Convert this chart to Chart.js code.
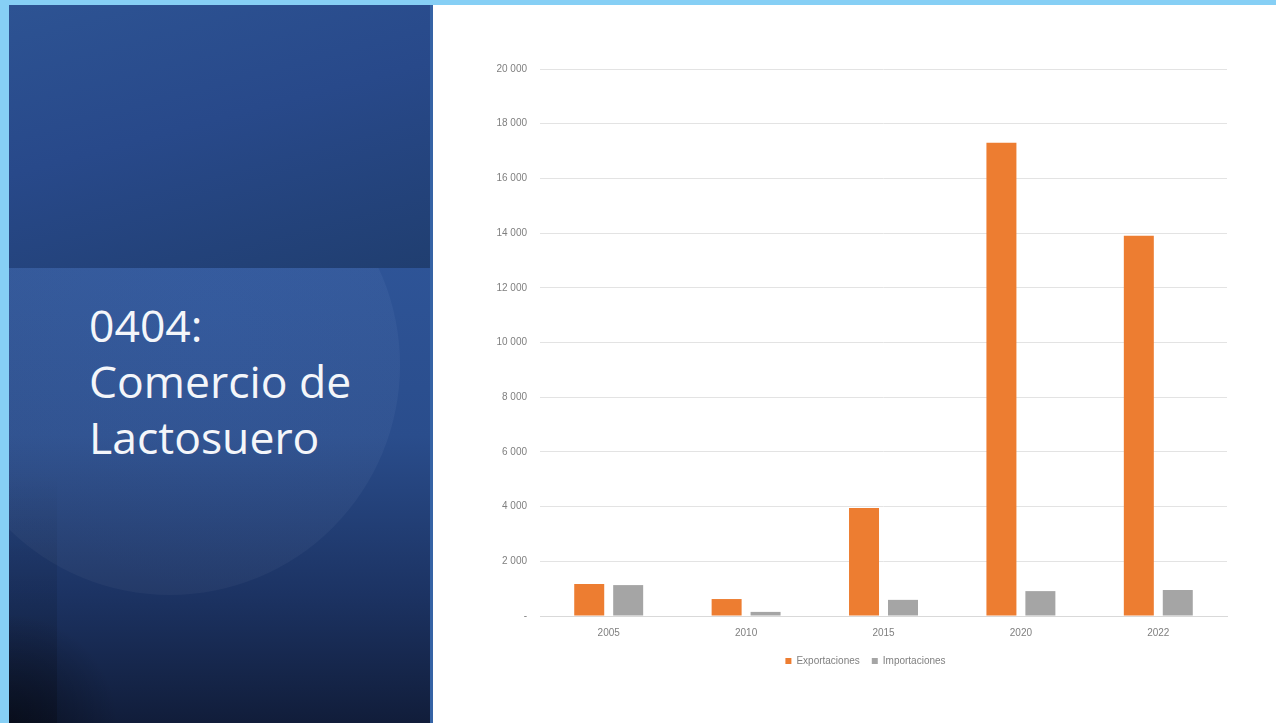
<!DOCTYPE html>
<html>
<head>
<meta charset="utf-8">
<script src="https://cdn.jsdelivr.net/npm/chart.js@4.4.1/dist/chart.umd.min.js"></script>
<style>
  html, body { margin: 0; padding: 0; }
  body { width: 1276px; height: 723px; position: relative; overflow: hidden; background: #ffffff; }
  #topbar { position: absolute; left: 0; top: 0; width: 1276px; height: 5px; background: #86cff5; }
  #leftbar { position: absolute; left: 0; top: 0; width: 9px; height: 723px; background: #86cff5; }
  #panel {
    position: absolute; left: 9px; top: 5px; width: 424px; height: 718px; overflow: hidden;
    background: linear-gradient(180deg, #2e5497 36%, #2a4d8c 60%, #1c3363 82%, #111d3a 100%);
  }
  #glow {
    position: absolute; left: -69px; top: 130px; width: 460px; height: 460px; border-radius: 50%;
    background: radial-gradient(circle at 60% 40%, rgba(120,160,230,0.10), rgba(255,255,255,0.035) 70%);
  }
  #upper {
    position: absolute; left: 0; top: 0; width: 100%; height: 263px;
    background: linear-gradient(165deg, #2d5393 0%, #28498a 45%, #203e70 100%);
  }
  #strip {
    position: absolute; left: 0; top: 263px; width: 48px; height: 455px;
    background: linear-gradient(180deg, rgba(0,0,0,0) 45%, rgba(0,0,0,0.2) 100%);
  }
  #corner {
    position: absolute; left: -110px; bottom: -110px; width: 220px; height: 220px; border-radius: 50%;
    background: radial-gradient(circle, rgba(0,0,0,0.4), rgba(0,0,0,0) 70%);
  }
  #edge { position: absolute; right: 0; top: 0; width: 3px; height: 100%; background: #3563a5; }
  #title {
    position: absolute; left: 80px; top: 292px; color: #f4f6fa;
    font-family: "Open Sans", sans-serif; font-size: 44.5px; line-height: 56px;
  }
  #wrap { position: absolute; left: 440px; top: 50px; width: 800px; height: 650px; }
</style>
</head>
<body>
<div id="topbar"></div>
<div id="leftbar"></div>
<div id="panel">
  <div id="glow"></div>
  <div id="upper"></div>
  <div id="strip"></div>
  <div id="corner"></div>
  <div id="edge"></div>
  <div id="title">0404:<br>Comercio de<br>Lactosuero</div>
</div>
<div id="wrap"><canvas id="chart"></canvas></div>
<script>
const years = ['2005', '2010', '2015', '2020', '2022'];
const exportaciones = [1170, 620, 3950, 17300, 13900];
const importaciones = [1130, 150, 590, 910, 950];
const yTicks = [0, 2000, 4000, 6000, 8000, 10000, 12000, 14000, 16000, 18000, 20000];

function fmt(v) {
  if (v === 0) return '-';
  return String(v).replace(/\B(?=(\d{3})+(?!\d))/g, ' ');
}

// legend sits centred under the plot area, not the canvas
const legendShift = {
  id: 'legendShift',
  afterLayout(chart) {
    const lg = chart.legend;
    const dx = (chart.chartArea.left + chart.chartArea.right) / 2 - (lg.left + lg.right) / 2 - 18;
    lg.left += dx;
    lg.right += dx;
  }
};

const ctx = document.getElementById('chart').getContext('2d');
new Chart(ctx, {
  type: 'bar',
  data: {
    labels: years,
    datasets: [
      { label: 'Exportaciones', data: exportaciones, backgroundColor: '#ed7d31' },
      { label: 'Importaciones', data: importaciones, backgroundColor: '#a5a5a5' }
    ]
  },
  plugins: [legendShift],
  options: {
    responsive: true,
    maintainAspectRatio: false,
    animation: false,
    categoryPercentage: 0.567,
    barPercentage: 0.77,
    layout: { padding: { left: 0, right: 13, top: 19, bottom: 24 } },
    plugins: {
      tooltip: { enabled: false },
      legend: {
        position: 'bottom',
        labels: {
          boxWidth: 6, boxHeight: 6, padding: 12,
          color: '#7f7f7f',
          font: { family: 'Liberation Sans', size: 10 }
        }
      }
    },
    scales: {
      x: {
        grid: { display: false },
        border: { color: '#d9d9d9' },
        ticks: { color: '#7f7f7f', padding: 3, font: { family: 'Liberation Sans', size: 10 } },
        afterFit(scale) { scale.height = 28; }
      },
      y: {
        min: 0, max: 20000,
        afterBuildTicks(scale) { scale.ticks = yTicks.map(v => ({ value: v })); },
        grid: { color: '#e3e3e3', drawTicks: false },
        border: { display: false },
        ticks: { color: '#7f7f7f', padding: 13, font: { family: 'Liberation Sans', size: 10 }, callback: fmt },
        afterFit(scale) { scale.width = 100; }
      }
    }
  }
});
</script>
</body>
</html>
